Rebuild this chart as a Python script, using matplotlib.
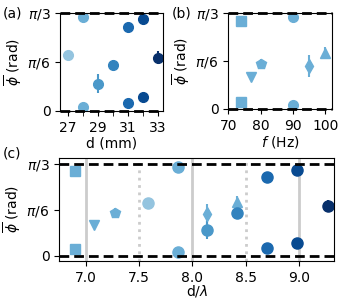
import matplotlib.pyplot as plt
import numpy as np

# data
d_mm = [27, 28, 28, 29, 30, 31, 31, 32, 32, 33]
d_phi = [0.60, 1.005, 0.04, 0.29, 0.49, 0.90, 0.09, 0.98, 0.15, 0.57]
d_err = [0.0, 0.0, 0.0, 0.10, 0.05, 0.0, 0.0, 0.0, 0.04, 0.07]
d_col = [0.40, 0.50, 0.50, 0.60, 0.68, 0.78, 0.78, 0.90, 0.90, 1.0]
d_lam_d = [7.58, 7.86, 7.86, 8.14, 8.42, 8.70, 8.70, 8.98, 8.98, 9.27]

f_hz = [74, 74, 77, 80, 90, 90, 95, 100]
f_phi = [0.96, 0.075, 0.345, 0.49, 1.005, 0.04, 0.47, 0.61]
f_err = [0.0, 0.0, 0.0, 0.05, 0.0, 0.0, 0.12, 0.07]
f_mark = ['s', 's', 'v', 'p', 'o', 'o', 'd', '^']
f_lam_d = [6.90, 6.90, 7.08, 7.27, 7.86, 7.86, 8.14, 8.42]

cmap = plt.get_cmap('Blues')
fcol = cmap(0.5)

plt.rcParams['font.size'] = 10
fig = plt.figure(figsize=(3.38, 3.0), dpi=100)
axa = fig.add_axes([0.178, 0.630, 0.305, 0.327])
axb = fig.add_axes([0.675, 0.637, 0.307, 0.320])
axc = fig.add_axes([0.175, 0.130, 0.814, 0.344])

ylab = r'$\overline{\phi}$ (rad)'
yt = [0, np.pi / 6, np.pi / 3]
ytl = ['0', r'$\pi/6$', r'$\pi/3$']


def hlines(ax):
    for y in [0, np.pi / 3]:
        ax.axhline(y, color='k', lw=2, ls=(0, (3.5, 1.8)), clip_on=False, zorder=5)


# (a)
for x, y, e, c in zip(d_mm, d_phi, d_err, d_col):
    axa.errorbar(x, y, yerr=e if e else None, fmt='o', ms=7, color=cmap(c), elinewidth=1.5)
hlines(axa)
axa.set_xlim(26.5, 33.35)
axa.set_ylim(0, np.pi / 3)
axa.set_xticks([27, 29, 31, 33])
axa.set_xticks([28, 30, 32], minor=True)
axa.set_yticks(yt, ytl)
axa.set_xlabel('d (mm)', labelpad=1)
axa.set_ylabel(ylab, labelpad=2)
axa.tick_params(which='minor', length=3.5)

# (b)
for x, y, e, m in zip(f_hz, f_phi, f_err, f_mark):
    axb.errorbar(x, y, yerr=e if e else None, fmt=m, ms=7, color=fcol, elinewidth=1.5)
hlines(axb)
axb.set_xlim(70, 102)
axb.set_ylim(0, np.pi / 3)
axb.set_xticks([70, 80, 90, 100])
axb.set_yticks(yt, ytl)
axb.set_xlabel(r'$f$ (Hz)', labelpad=1)
axb.set_ylabel(ylab, labelpad=2)

# (c)
for x in [7.0, 8.0, 9.0]:
    axc.axvline(x, color='#cccccc', lw=2, zorder=0)
for x in [7.5, 8.5]:
    axc.axvline(x, color='#cccccc', lw=2, ls=':', zorder=0)
hlines(axc)
for x, y, e, m in zip(f_lam_d, f_phi, f_err, f_mark):
    axc.errorbar(x, y, yerr=e if e else None, fmt=m, ms=7, color=fcol, elinewidth=1.5)
for x, y, e, c in zip(d_lam_d, d_phi, d_err, d_col):
    axc.errorbar(x, y, yerr=e if e else None, fmt='o', ms=8, color=cmap(c), elinewidth=1.5)
axc.set_xlim(6.75, 9.33)
axc.set_ylim(-0.06, 1.115)
axc.set_xticks([7.0, 7.5, 8.0, 8.5, 9.0])
axc.set_yticks(yt, ytl)
axc.set_xlabel(r'd/$\lambda$', labelpad=-1)
axc.set_ylabel(ylab, labelpad=2)

fig.text(0.008, 0.955, '(a)', fontsize=10, va='center')
fig.text(0.508, 0.955, '(b)', fontsize=10, va='center')
fig.text(0.008, 0.488, '(c)', fontsize=10, va='center')

fig.savefig('out.png', dpi=100)
